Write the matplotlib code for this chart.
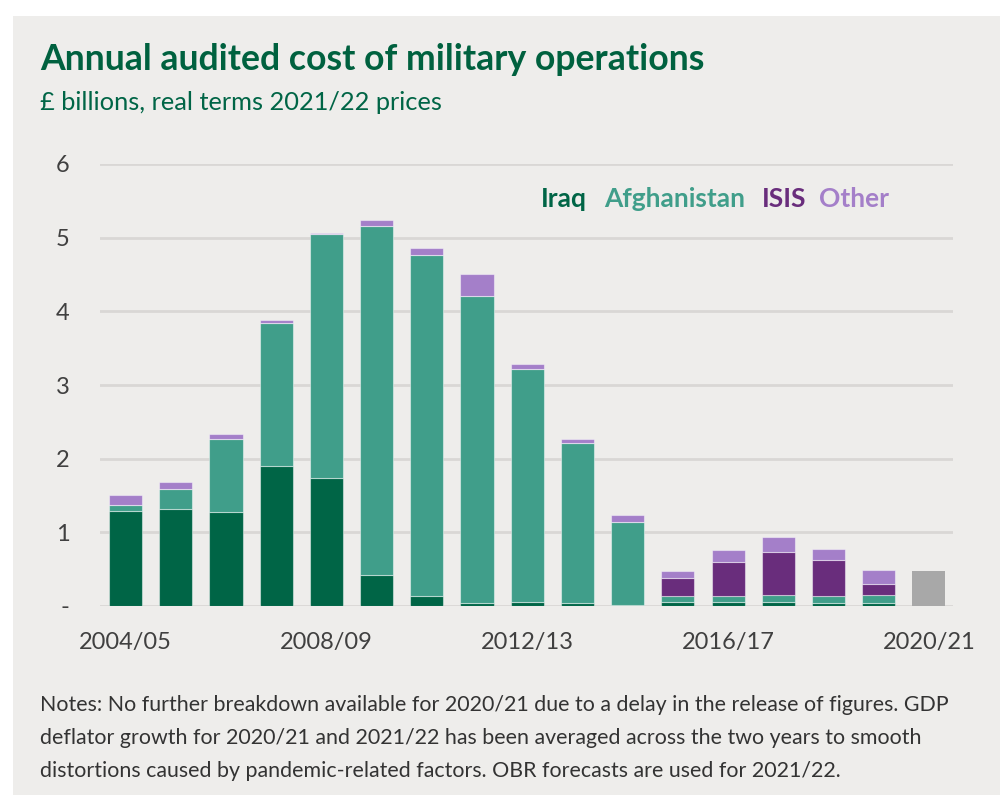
import matplotlib.pyplot as plt
import numpy as np

years = ['2004/05', '2005/06', '2006/07', '2007/08', '2008/09', '2009/10', '2010/11',
         '2011/12', '2012/13', '2013/14', '2014/15', '2015/16', '2016/17', '2017/18',
         '2018/19', '2019/20', '2020/21']
iraq = [1.29, 1.31, 1.27, 1.90, 1.74, 0.42, 0.14, 0.04, 0.06, 0.04, 0.02, 0.06, 0.06, 0.06, 0.04, 0.04, 0]
afghanistan = [0.08, 0.28, 1.00, 1.94, 3.31, 4.74, 4.63, 4.17, 3.16, 2.17, 1.12, 0.07, 0.07, 0.09, 0.09, 0.11, 0]
isis = [0, 0, 0, 0, 0, 0, 0, 0, 0, 0, 0, 0.25, 0.47, 0.58, 0.49, 0.15, 0]
other = [0.14, 0.09, 0.06, 0.04, 0.02, 0.08, 0.09, 0.30, 0.07, 0.06, 0.09, 0.09, 0.16, 0.20, 0.15, 0.19, 0]
total_only = [0, 0, 0, 0, 0, 0, 0, 0, 0, 0, 0, 0, 0, 0, 0, 0, 0.47]  # no breakdown for 2020/21

series = [('Iraq', iraq, '#006546'), ('Afghanistan', afghanistan, '#409e8a'),
          ('ISIS', isis, '#692d7c'), ('Other', other, '#a47fc9')]

plt.rcParams['font.family'] = ['Lato', 'DejaVu Sans']
bg = '#eeedeb'

fig = plt.figure(figsize=(10, 7.95), dpi=100)
# grey panel behind everything
fig.patches.append(plt.Rectangle((0.013, 0), 0.987, 1 - 16 / 795, transform=fig.transFigure,
                                 facecolor=bg, edgecolor='none', zorder=-10))

ax = fig.add_axes([0.100, (795 - 606) / 795, 0.853, (606 - 164) / 795])
ax.set_facecolor(bg)

x = np.arange(len(years))
bottom = np.zeros(len(years))
for name, vals, col in series:
    v = np.array(vals)
    ax.bar(x, v, 0.66, bottom=bottom, color=col, edgecolor=(1, 1, 1, 0.45), linewidth=0.8, zorder=3)
    bottom += v
ax.bar(x, total_only, 0.66, color='#a8a8a8', edgecolor='none', zorder=3)

ax.set_xlim(-0.51, 16.48)
ax.set_ylim(0, 6)
ax.set_yticks(range(7))
ax.set_yticklabels(['-', '1', '2', '3', '4', '5', '6'])
ax.yaxis.grid(True, color='#d9d7d5', linewidth=2, zorder=0)
ax.set_axisbelow(True)
for s in ax.spines.values():
    s.set_visible(False)
ax.tick_params(axis='both', length=0, labelsize=17, colors='#404040')
ax.tick_params(axis='y', pad=22)
ax.tick_params(axis='x', pad=19)
ax.set_xticks(x[::4])
ax.set_xticklabels(years[::4])

# legend as coloured words
lx = [541, 604, 762, 819]
for (name, vals, col), px in zip(series, lx):
    fig.text(px / 1000, 1 - 199 / 795, name, color=col, fontsize=19, fontweight='bold',
             va='center', ha='left')

fig.text(0.040, 1 - 59 / 795, 'Annual audited cost of military operations', color='#00613f',
         fontsize=25.7, fontweight='bold', va='center')
fig.text(0.040, 1 - 102 / 795, '£ billions, real terms 2021/22 prices', color='#006546',
         fontsize=18.3, va='center')

notes = ['Notes: No further breakdown available for 2020/21 due to a delay in the release of figures. GDP',
         'deflator growth for 2020/21 and 2021/22 has been averaged across the two years to smooth',
         'distortions caused by pandemic-related factors. OBR forecasts are used for 2021/22.']
for i, line in enumerate(notes):
    fig.text(0.040, 1 - (705 + 33 * i) / 795, line, color='#333333', fontsize=15.4, va='center')

fig.savefig('out.png', dpi=100, facecolor='white')
